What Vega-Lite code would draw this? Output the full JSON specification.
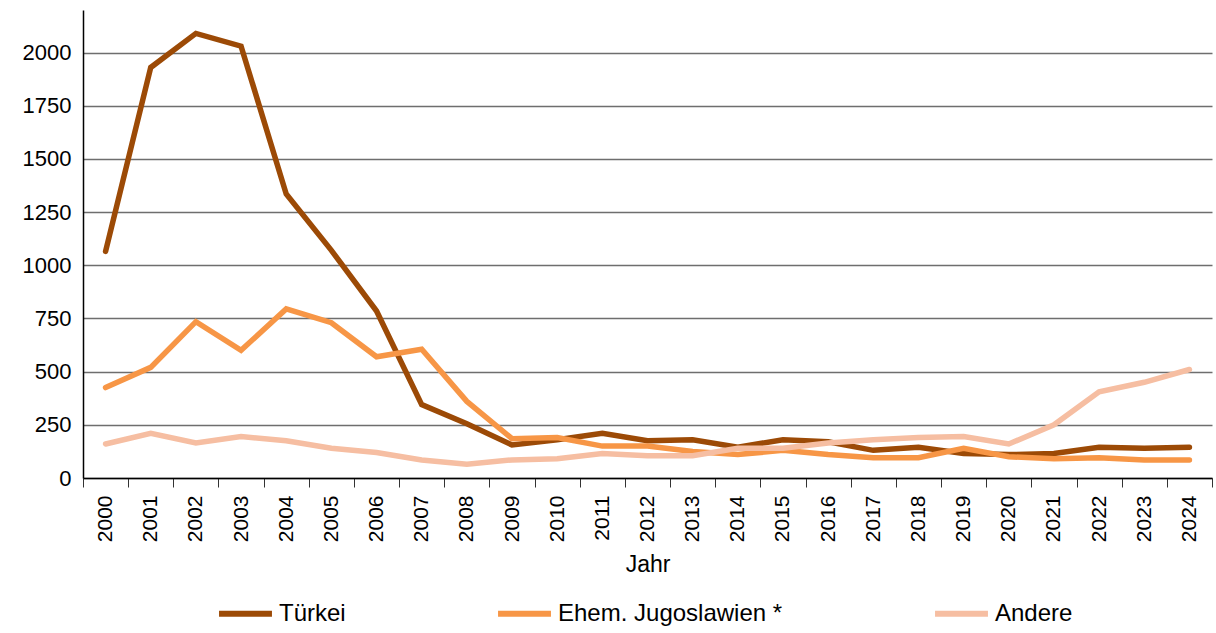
{
  "$schema": "https://vega.github.io/schema/vega-lite/v6.json",
  "width": 1129,
  "height": 468,
  "autosize": {"type": "none"},
  "padding": {"left": 83, "top": 10, "right": 4, "bottom": 155},
  "background": "white",
  "config": {
    "view": {"stroke": null},
    "font": "Liberation Sans"
  },
  "data": {
    "values": [
      {"Jahr": "2000", "Gruppe": "Türkei", "Wert": 1065},
      {"Jahr": "2001", "Gruppe": "Türkei", "Wert": 1930},
      {"Jahr": "2002", "Gruppe": "Türkei", "Wert": 2090},
      {"Jahr": "2003", "Gruppe": "Türkei", "Wert": 2030},
      {"Jahr": "2004", "Gruppe": "Türkei", "Wert": 1335},
      {"Jahr": "2005", "Gruppe": "Türkei", "Wert": 1070},
      {"Jahr": "2006", "Gruppe": "Türkei", "Wert": 785},
      {"Jahr": "2007", "Gruppe": "Türkei", "Wert": 345},
      {"Jahr": "2008", "Gruppe": "Türkei", "Wert": 255},
      {"Jahr": "2009", "Gruppe": "Türkei", "Wert": 155},
      {"Jahr": "2010", "Gruppe": "Türkei", "Wert": 180},
      {"Jahr": "2011", "Gruppe": "Türkei", "Wert": 210},
      {"Jahr": "2012", "Gruppe": "Türkei", "Wert": 175},
      {"Jahr": "2013", "Gruppe": "Türkei", "Wert": 180},
      {"Jahr": "2014", "Gruppe": "Türkei", "Wert": 145},
      {"Jahr": "2015", "Gruppe": "Türkei", "Wert": 180},
      {"Jahr": "2016", "Gruppe": "Türkei", "Wert": 170},
      {"Jahr": "2017", "Gruppe": "Türkei", "Wert": 130},
      {"Jahr": "2018", "Gruppe": "Türkei", "Wert": 145},
      {"Jahr": "2019", "Gruppe": "Türkei", "Wert": 115},
      {"Jahr": "2020", "Gruppe": "Türkei", "Wert": 110},
      {"Jahr": "2021", "Gruppe": "Türkei", "Wert": 115},
      {"Jahr": "2022", "Gruppe": "Türkei", "Wert": 145},
      {"Jahr": "2023", "Gruppe": "Türkei", "Wert": 140},
      {"Jahr": "2024", "Gruppe": "Türkei", "Wert": 145},
      {"Jahr": "2000", "Gruppe": "Ehem. Jugoslawien *", "Wert": 425},
      {"Jahr": "2001", "Gruppe": "Ehem. Jugoslawien *", "Wert": 520},
      {"Jahr": "2002", "Gruppe": "Ehem. Jugoslawien *", "Wert": 735},
      {"Jahr": "2003", "Gruppe": "Ehem. Jugoslawien *", "Wert": 600},
      {"Jahr": "2004", "Gruppe": "Ehem. Jugoslawien *", "Wert": 795},
      {"Jahr": "2005", "Gruppe": "Ehem. Jugoslawien *", "Wert": 730},
      {"Jahr": "2006", "Gruppe": "Ehem. Jugoslawien *", "Wert": 570},
      {"Jahr": "2007", "Gruppe": "Ehem. Jugoslawien *", "Wert": 605},
      {"Jahr": "2008", "Gruppe": "Ehem. Jugoslawien *", "Wert": 360},
      {"Jahr": "2009", "Gruppe": "Ehem. Jugoslawien *", "Wert": 185},
      {"Jahr": "2010", "Gruppe": "Ehem. Jugoslawien *", "Wert": 190},
      {"Jahr": "2011", "Gruppe": "Ehem. Jugoslawien *", "Wert": 150},
      {"Jahr": "2012", "Gruppe": "Ehem. Jugoslawien *", "Wert": 150},
      {"Jahr": "2013", "Gruppe": "Ehem. Jugoslawien *", "Wert": 125},
      {"Jahr": "2014", "Gruppe": "Ehem. Jugoslawien *", "Wert": 110},
      {"Jahr": "2015", "Gruppe": "Ehem. Jugoslawien *", "Wert": 130},
      {"Jahr": "2016", "Gruppe": "Ehem. Jugoslawien *", "Wert": 110},
      {"Jahr": "2017", "Gruppe": "Ehem. Jugoslawien *", "Wert": 95},
      {"Jahr": "2018", "Gruppe": "Ehem. Jugoslawien *", "Wert": 95},
      {"Jahr": "2019", "Gruppe": "Ehem. Jugoslawien *", "Wert": 140},
      {"Jahr": "2020", "Gruppe": "Ehem. Jugoslawien *", "Wert": 100},
      {"Jahr": "2021", "Gruppe": "Ehem. Jugoslawien *", "Wert": 90},
      {"Jahr": "2022", "Gruppe": "Ehem. Jugoslawien *", "Wert": 95},
      {"Jahr": "2023", "Gruppe": "Ehem. Jugoslawien *", "Wert": 85},
      {"Jahr": "2024", "Gruppe": "Ehem. Jugoslawien *", "Wert": 85},
      {"Jahr": "2000", "Gruppe": "Andere", "Wert": 160},
      {"Jahr": "2001", "Gruppe": "Andere", "Wert": 210},
      {"Jahr": "2002", "Gruppe": "Andere", "Wert": 165},
      {"Jahr": "2003", "Gruppe": "Andere", "Wert": 195},
      {"Jahr": "2004", "Gruppe": "Andere", "Wert": 175},
      {"Jahr": "2005", "Gruppe": "Andere", "Wert": 140},
      {"Jahr": "2006", "Gruppe": "Andere", "Wert": 120},
      {"Jahr": "2007", "Gruppe": "Andere", "Wert": 85},
      {"Jahr": "2008", "Gruppe": "Andere", "Wert": 65},
      {"Jahr": "2009", "Gruppe": "Andere", "Wert": 85},
      {"Jahr": "2010", "Gruppe": "Andere", "Wert": 90},
      {"Jahr": "2011", "Gruppe": "Andere", "Wert": 115},
      {"Jahr": "2012", "Gruppe": "Andere", "Wert": 105},
      {"Jahr": "2013", "Gruppe": "Andere", "Wert": 105},
      {"Jahr": "2014", "Gruppe": "Andere", "Wert": 140},
      {"Jahr": "2015", "Gruppe": "Andere", "Wert": 140},
      {"Jahr": "2016", "Gruppe": "Andere", "Wert": 165},
      {"Jahr": "2017", "Gruppe": "Andere", "Wert": 180},
      {"Jahr": "2018", "Gruppe": "Andere", "Wert": 190},
      {"Jahr": "2019", "Gruppe": "Andere", "Wert": 195},
      {"Jahr": "2020", "Gruppe": "Andere", "Wert": 160},
      {"Jahr": "2021", "Gruppe": "Andere", "Wert": 250},
      {"Jahr": "2022", "Gruppe": "Andere", "Wert": 405},
      {"Jahr": "2023", "Gruppe": "Andere", "Wert": 450},
      {"Jahr": "2024", "Gruppe": "Andere", "Wert": 510}
    ]
  },
  "mark": {"type": "line", "strokeWidth": 5.5, "strokeCap": "round", "strokeJoin": "miter"},
  "encoding": {
    "x": {
      "field": "Jahr",
      "type": "ordinal",
      "bandPosition": 0.5,
      "scale": {"type": "band", "paddingInner": 0, "paddingOuter": 0},
      "axis": {
        "title": "Jahr",
        "titleFont": "Liberation Sans",
        "titleFontSize": 23,
        "titleFontWeight": "normal",
        "titleColor": "black",
        "titlePadding": 12,
        "labelAngle": -90,
        "labelAlign": "right",
        "labelBaseline": "middle",
        "labelFontSize": 21,
        "labelColor": "black",
        "labelPadding": 8,
        "tickBand": "extent",
        "tickSize": 9,
        "tickColor": "#333333",
        "domainColor": "black",
        "domainWidth": 1.5,
        "grid": false
      }
    },
    "y": {
      "field": "Wert",
      "type": "quantitative",
      "scale": {"domain": [0, 2200], "nice": false},
      "axis": {
        "title": null,
        "format": "d",
        "values": [0, 250, 500, 750, 1000, 1250, 1500, 1750, 2000],
        "labelFontSize": 22,
        "labelColor": "black",
        "labelPadding": 12,
        "ticks": false,
        "domainColor": "black",
        "domainWidth": 1.5,
        "grid": true,
        "gridColor": "#6e6e6e",
        "gridWidth": 1.3
      }
    },
    "color": {
      "field": "Gruppe",
      "type": "nominal",
      "scale": {
        "domain": ["Türkei", "Ehem. Jugoslawien *", "Andere"],
        "range": ["#9C4A06", "#F79646", "#F6BEA2"]
      },
      "legend": {
        "title": null,
        "orient": "none",
        "direction": "horizontal",
        "legendX": 133,
        "legendY": 574,
        "symbolType": "stroke",
        "symbolSize": 2800,
        "symbolStrokeWidth": 6,
        "labelFontSize": 24,
        "labelLimit": 500,
        "labelColor": "black",
        "labelOffset": 4,
        "columnPadding": 140
      }
    }
  }
}
